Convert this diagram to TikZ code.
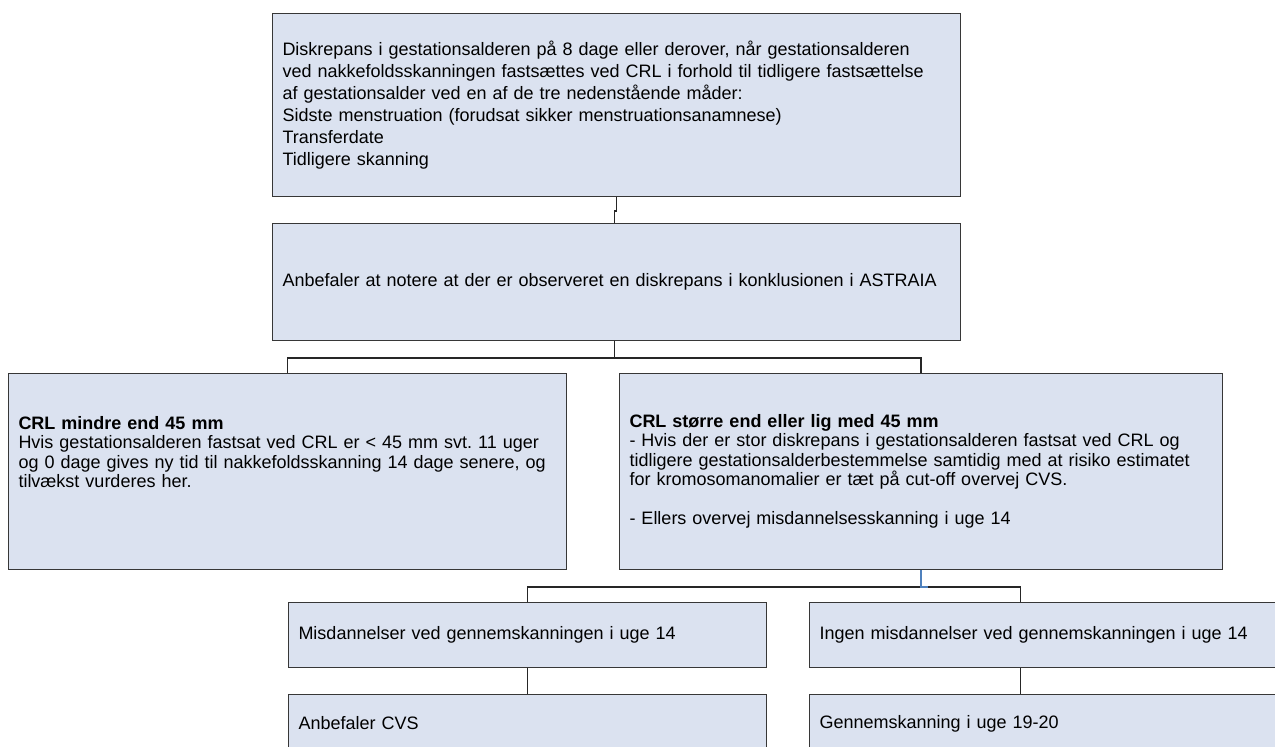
\documentclass[tikz,border=0pt]{standalone}
\usepackage{fontspec}
\setmainfont{Liberation Sans}
\frenchspacing
\definecolor{boxfill}{RGB}{219,226,240}
\definecolor{boxline}{RGB}{55,55,55}
\definecolor{bluelink}{RGB}{79,129,189}
\tikzset{
  box/.style={draw=boxline, line width=1pt, fill=boxfill, anchor=north west,
    inner xsep=10pt, inner ysep=0pt, align=left,
    font=\fontsize{18}{20.5}\selectfont},
  link/.style={draw=black!85, line width=1.2pt},
  bluelinkstyle/.style={draw=bluelink, line width=1.5pt},
}
\begin{document}
\begin{tikzpicture}[x=1pt,y=-1pt]
\useasboundingbox (0,0) rectangle (1275,747);
\clip (0,0) rectangle (1275,747);

\node[box, minimum width=688pt, minimum height=183pt, text width=668pt,
  font=\fontsize{18}{22}\selectfont] (A) at (272,13)
 {Diskrepans i gestationsalderen på 8 dage eller derover, når gestationsalderen\\
  ved nakkefoldsskanningen fastsættes ved CRL i forhold til tidligere fastsættelse\\
  af gestationsalder ved en af de tre nedenstående måder:\\
  Sidste menstruation (forudsat sikker menstruationsanamnese)\\
  Transferdate\\
  Tidligere skanning};

\node[box, minimum width=688pt, minimum height=117pt, text width=668pt] (B) at (272,223)
 {Anbefaler at notere at der er observeret en diskrepans i konklusionen i ASTRAIA};

\node[box, minimum width=558pt, minimum height=196pt, text width=538pt,
  font=\fontsize{18}{19.5}\selectfont] (C) at (8,373)
 {\textbf{CRL mindre end 45 mm}\\
  Hvis gestationsalderen fastsat ved CRL er < 45 mm svt. 11 uger\\
  og 0 dage gives ny tid til nakkefoldsskanning 14 dage senere, og\\
  tilvækst vurderes her.\\ \mbox{}\\ \mbox{}};

\node[box, minimum width=603pt, minimum height=196pt, text width=583pt,
  font=\fontsize{18}{19.5}\selectfont] (D) at (619,373)
 {\textbf{CRL større end eller lig med 45 mm}\\
  - Hvis der er stor diskrepans i gestationsalderen fastsat ved CRL og\\
  tidligere gestationsalderbestemmelse samtidig med at risiko estimatet\\
  for kromosomanomalier er tæt på cut-off overvej CVS.\\
  \mbox{}\\
  - Ellers overvej misdannelsesskanning i uge 14};

\node[box, minimum width=478pt, minimum height=65pt, text width=458pt] (E) at (288,602)
 {Misdannelser ved gennemskanningen i uge 14};
\node[box, minimum width=480pt, minimum height=65pt, text width=460pt] (F) at (809,602)
 {Ingen misdannelser ved gennemskanningen i uge 14};
\node[box, minimum width=478pt, minimum height=58pt, text width=458pt] (G) at (288,694)
 {Anbefaler CVS};
\node[box, minimum width=480pt, minimum height=58pt, text width=460pt] (H) at (809,694)
 {Gennemskanning i uge 19-20};

% connectors
\draw[link] (A.south) -- ++(0,14) -- ++(-2,0) -- ([xshift=-2pt]B.north);
\draw[link] ([xshift=-2pt]B.south) -- ++(0,17) coordinate (j1);
\draw[link] (C.north) |- (j1) -| (D.north);
\coordinate (j2) at ([yshift=-17pt]D.south);
\draw[link] (E.north) |- (j2) -| ([xshift=-29pt]F.north);
\draw[bluelinkstyle] (D.south) -- (j2) -- ++(7,0);
\draw[link] (E.south) -- (G.north);
\draw[link] ([xshift=-29pt]F.south) -- ([xshift=-29pt]H.north);
\end{tikzpicture}
\end{document}
